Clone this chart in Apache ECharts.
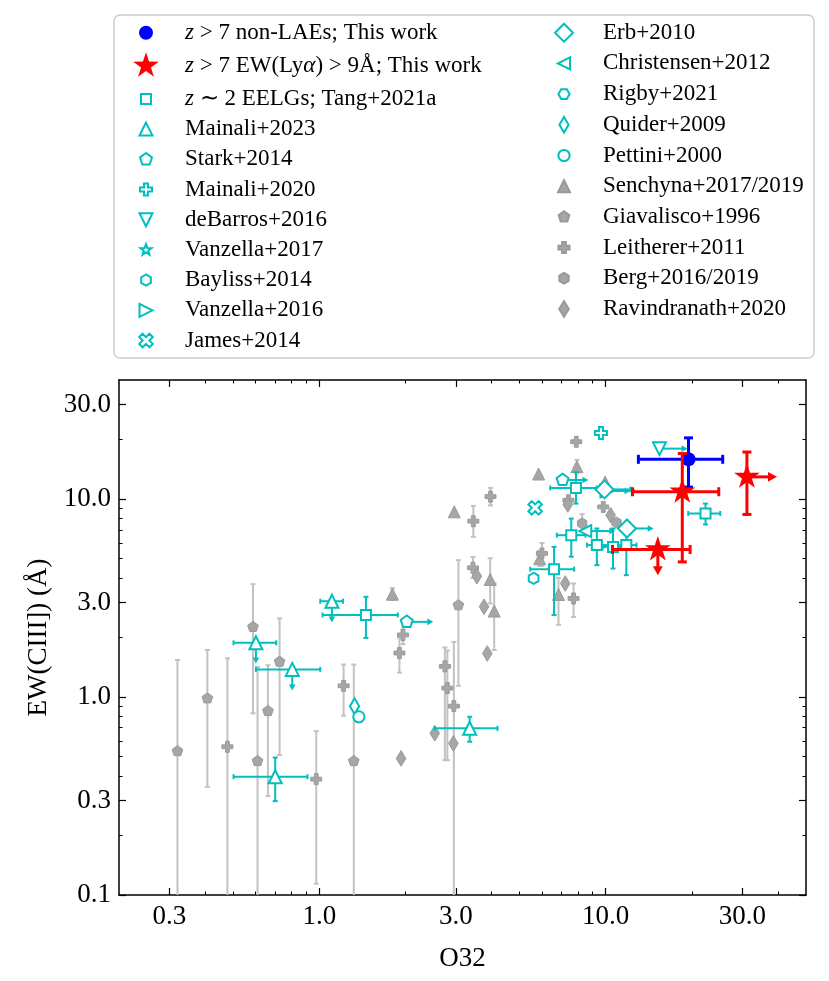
<!DOCTYPE html>
<html><head><meta charset="utf-8">
<script src="https://cdn.jsdelivr.net/npm/echarts@6/dist/echarts.min.js"></script>
<style>html,body{margin:0;padding:0;background:#fff}#c{width:829px;height:981px}</style>
</head><body><div id="c"></div>
<script>
// ---------------- data ----------------
const xMajorTicks = [0.3, 1, 3, 10, 30];
const xMinorTicks = [0.4, 0.5, 0.6, 0.7, 0.8, 0.9, 2, 4, 5, 6, 7, 8, 9, 20, 40];
const yMajorTicks = [0.1, 0.3, 1, 3, 10, 30];
const yMinorTicks = [0.2, 0.4, 0.5, 0.6, 0.7, 0.8, 0.9, 2, 4, 5, 6, 7, 8, 9, 20];

// rows: [O32, EW, O32_lo, O32_hi, EW_lo, EW_hi, O32 lower-limit arrow end, EW upper-limit arrow end]
const nonLAE = [[19.45, 15.9, 13.0, 25.6, 11.5, 20.4]];
const lyaEmitters = [
  [18.5, 10.9, 12.4, 24.8, 4.82, 17.0],
  [31.1, 12.96, null, null, 8.37, 17.3, 39.6, null],
  [15.2, 5.57, 10.56, 19.7, null, null, null, 4.13]
];
const tang2021 = [
  [1.455, 2.6, 1.027, 1.88, 1.99, 3.21],
  [7.87, 11.4, 6.4, 9.3, 9.5, 13.7],
  [7.58, 6.58, 6.75, 8.5, 5.12, 7.98],
  [9.31, 5.86, 8.6, 10.2, 4.64, 7.11],
  [10.6, 5.74, 9.8, 11.5, 4.46, 7.11],
  [11.8, 5.86, 11.0, 12.8, 4.13, 6.84],
  [6.6, 4.43, 5.45, 7.76, 2.6, 5.74],
  [22.3, 8.47, 19.4, 25.1, 7.45, 9.5]
];
const mainali2023 = [
  [0.601, 1.88, 0.502, 0.708, null, null, null, 1.48],
  [0.805, 1.38, 0.601, 1.008, null, null, null, 1.08],
  [0.702, 0.396, 0.502, 0.91, 0.298, 0.495],
  [1.107, 3.05, 1.008, 1.21, null, null, null, 2.38],
  [3.35, 0.695, 2.53, 4.19, 0.595, 0.795]
];
const stark2014 = [
  [2.02, 2.40, null, null, null, null, 2.5, null],
  [7.07, 12.5, null, null, null, null, 8.7, null]
];
const mainali2020 = [[9.62, 21.6]];
const debarros2016 = [[15.4, 18.0, null, null, null, null, 19.3, null]];
const vanzella2017 = [];
const bayliss2014 = [[5.6, 3.98]];
const vanzella2016 = [[10.1, 11.0, null, null, null, null, 12.2, null]];
const james2014 = [[5.67, 9.04]];
const erb2010 = [
  [9.9, 11.2, null, null, null, null, 12.7, null],
  [11.86, 7.11, null, null, null, null, 14.7, null]
];
const christensen2012 = [[8.48, 6.9, null, null, null, null, 10.8, null]];
const rigby2021 = [];
const quider2009 = [[1.328, 0.90]];
const pettini2000 = [[1.375, 0.795]];
const senchyna = [
  [1.80, 3.31, null, null, 3.1, 3.55],
  [2.96, 8.63],
  [3.95, 3.93, null, null, 2.97, 5.03],
  [4.08, 2.72, null, null, 1.73, 3.75],
  [5.83, 13.4],
  [7.93, 14.6, null, null, 13.5, 15.8],
  [9.95, 12.2],
  [5.88, 5.0, null, null, 4.6, 5.5],
  [6.84, 3.3, null, null, 2.32, 4.0]
];
const giavalisco = [
  [0.32, 0.533, null, null, 0.05, 1.54],
  [0.407, 0.985, null, null, 0.352, 1.73],
  [0.587, 2.26, null, null, 0.828, 3.72],
  [0.609, 0.475, null, null, 0.05, 1.42],
  [0.662, 0.85, null, null, 0.316, 1.45],
  [0.727, 1.51, null, null, 0.509, 2.50],
  [1.32, 0.475, null, null, 0.05, 1.46],
  [3.06, 2.91, null, null, 1.14, 4.92]
];
const leitherer = [
  [0.478, 0.561, null, null, 0.05, 1.57],
  [0.976, 0.385, null, null, 0.114, 0.673],
  [1.216, 1.14, null, null, 0.805, 1.46],
  [1.96, 2.06, null, null, 1.85, 2.2],
  [1.905, 1.67, null, null, 1.33, 2.0],
  [3.45, 7.74, null, null, 6.45, 9.25],
  [3.96, 10.3, null, null, 9.3, 11.4],
  [3.44, 4.5, null, null, 4.0, 5.1],
  [2.745, 1.43, null, null, 0.48, 1.78],
  [2.80, 1.11, null, null, 0.48, 1.72],
  [2.95, 0.90, null, null, 0.05, 1.9],
  [7.89, 19.5],
  [7.41, 9.88],
  [9.8, 9.14],
  [5.99, 5.32, null, null, 4.6, 6.0],
  [7.72, 3.15, null, null, 2.54, 3.75]
];
const berg = [
  [10.9, 7.62],
  [8.27, 7.54, null, null, 6.9, 8.4]
];
const ravindranath = [
  [1.93, 0.49],
  [2.53, 0.656],
  [2.94, 0.583],
  [3.55, 4.08],
  [3.76, 2.86],
  [3.86, 1.66],
  [7.37, 9.4],
  [10.4, 8.3],
  [7.22, 3.75]
];

// ---------------- marker shapes (28px box) ----------------
const BOX = 28;
const U = 100 / BOX;
const PAD = 'path://M0 0M100 100';
function fmt(v) { return (50 + v * U).toFixed(2); }
function polyPath(pts) { return PAD + 'M' + pts.map(p => fmt(p[0]) + ' ' + fmt(p[1])).join('L') + 'Z'; }
function regular(n, r, rot) {
  const pts = [];
  for (let k = 0; k < n; k++) { const a = (rot + k * 360 / n) * Math.PI / 180; pts.push([r * Math.cos(a), -r * Math.sin(a)]); }
  return pts;
}
function starPts(R, r) {
  const pts = [];
  for (let k = 0; k < 10; k++) { const a = (90 + k * 36) * Math.PI / 180; const rr = k % 2 ? r : R; pts.push([rr * Math.cos(a), -rr * Math.sin(a)]); }
  return pts;
}
function circlePath(r) {
  const a = r * U;
  return PAD + 'M' + (50 - a) + ' 50A' + a + ' ' + a + ' 0 1 1 ' + (50 + a) + ' 50A' + a + ' ' + a + ' 0 1 1 ' + (50 - a) + ' 50Z';
}
function plusPts(h, w) { return [[-w,-h],[w,-h],[w,-w],[h,-w],[h,w],[w,w],[w,h],[-w,h],[-w,w],[-h,w],[-h,-w],[-w,-w]]; }
function rot45(pts) { const c = Math.SQRT1_2; return pts.map(p => [(p[0] - p[1]) * c, (p[0] + p[1]) * c]); }

const CYAN = '#00bfbf', GREYF = '#a6a6a6', GREYS = '#999999', GREYE = '#c2c2c2';
const FONT = 'Liberation Serif';
const Y_MIN = 0.1;

const cyanErr = { color: CYAN, lw: 2, cap: 2.5, ah: 6 };
const greyErr = { color: GREYE, lw: 2, cap: 2.5, ah: 6 };
const groups = [
  { name: 'z > 7 non-LAEs; This work', rows: nonLAE, symbol: circlePath(7), fill: '#0000ff', stroke: '#0000ff', bw: 0, err: { color: '#0000ff', lw: 3, cap: 4.5, ah: 9 }, z: 5 },
  { name: 'z > 7 EW(Lyα) > 9Å; This work', rows: lyaEmitters, symbol: polyPath(starPts(13.5, 5.2)), fill: '#ff0000', stroke: '#ff0000', bw: 0, err: { color: '#ff0000', lw: 3, cap: 4.5, ah: 9 }, z: 7 },
  { name: 'z ∼ 2 EELGs; Tang+2021a', rows: tang2021, symbol: polyPath([[-5, -5], [5, -5], [5, 5], [-5, 5]]), fill: '#fff', stroke: CYAN, bw: 2, err: cyanErr, z: 3 },
  { name: 'Mainali+2023', rows: mainali2023, symbol: polyPath([[0, -6.5], [6.5, 6.5], [-6.5, 6.5]]), fill: '#fff', stroke: CYAN, bw: 2, err: cyanErr, z: 3 },
  { name: 'Stark+2014', rows: stark2014, symbol: polyPath(regular(5, 6.3, 90)), fill: '#fff', stroke: CYAN, bw: 2, err: cyanErr, z: 3 },
  { name: 'Mainali+2020', rows: mainali2020, symbol: polyPath(plusPts(6, 2)), fill: '#fff', stroke: CYAN, bw: 2, err: cyanErr, z: 3 },
  { name: 'deBarros+2016', rows: debarros2016, symbol: polyPath([[0, 6.5], [6.5, -6.5], [-6.5, -6.5]]), fill: '#fff', stroke: CYAN, bw: 2, err: cyanErr, z: 3 },
  { name: 'Vanzella+2017', rows: vanzella2017, symbol: polyPath(starPts(5.8, 2.4)), fill: '#fff', stroke: CYAN, bw: 2, err: cyanErr, z: 3 },
  { name: 'Bayliss+2014', rows: bayliss2014, symbol: polyPath(regular(6, 5.6, 90)), fill: '#fff', stroke: CYAN, bw: 2, err: cyanErr, z: 3 },
  { name: 'Vanzella+2016', rows: vanzella2016, symbol: polyPath([[6.5, 0], [-6.5, -6.5], [-6.5, 6.5]]), fill: '#fff', stroke: CYAN, bw: 2, err: cyanErr, z: 3 },
  { name: 'James+2014', rows: james2014, symbol: polyPath(rot45(plusPts(7.2, 2.4))), fill: '#fff', stroke: CYAN, bw: 2, err: cyanErr, z: 3 },
  { name: 'Erb+2010', rows: erb2010, symbol: polyPath([[0, -9], [9, 0], [0, 9], [-9, 0]]), fill: '#fff', stroke: CYAN, bw: 2, err: cyanErr, z: 3 },
  { name: 'Christensen+2012', rows: christensen2012, symbol: polyPath([[-6, 0], [6, -6], [6, 6]]), fill: '#fff', stroke: CYAN, bw: 2, err: cyanErr, z: 3 },
  { name: 'Rigby+2021', rows: rigby2021, symbol: polyPath(regular(6, 5.6, 0)), fill: '#fff', stroke: CYAN, bw: 2, err: cyanErr, z: 3 },
  { name: 'Quider+2009', rows: quider2009, symbol: polyPath([[0, -7.8], [4.6, 0], [0, 7.8], [-4.6, 0]]), fill: '#fff', stroke: CYAN, bw: 2, err: cyanErr, z: 3 },
  { name: 'Pettini+2000', rows: pettini2000, symbol: circlePath(5.6), fill: '#fff', stroke: CYAN, bw: 2, err: cyanErr, z: 3 },
  { name: 'Senchyna+2017/2019', rows: senchyna, symbol: polyPath([[0, -6], [6, 6], [-6, 6]]), fill: GREYF, stroke: GREYS, bw: 1, err: greyErr, z: 1 },
  { name: 'Giavalisco+1996', rows: giavalisco, symbol: polyPath(regular(5, 5.6, 90)), fill: GREYF, stroke: GREYS, bw: 1, err: greyErr, z: 1 },
  { name: 'Leitherer+2011', rows: leitherer, symbol: polyPath(plusPts(5.5, 1.9)), fill: GREYF, stroke: GREYS, bw: 1, err: greyErr, z: 1 },
  { name: 'Berg+2016/2019', rows: berg, symbol: polyPath(regular(6, 5.4, 90)), fill: GREYF, stroke: GREYS, bw: 1, err: greyErr, z: 1 },
  { name: 'Ravindranath+2020', rows: ravindranath, symbol: polyPath([[0, -7.8], [4.8, 0], [0, 7.8], [-4.8, 0]]), fill: GREYF, stroke: GREYS, bw: 1, err: greyErr, z: 1 }
];

function errRender(rows, o) {
  return function (params, api) {
    const r = rows[params.dataIndex];
    const x = r[0], y = r[1];
    const c = api.coord([x, y]);
    const st = { stroke: o.color, lineWidth: o.lw, fill: null };
    const kids = [];
    const seg = (a, b) => kids.push({ type: 'line', shape: { x1: a[0], y1: a[1], x2: b[0], y2: b[1] }, style: st });
    if (r[2] != null) {
      const a = api.coord([r[2], y]), b = api.coord([r[3], y]);
      seg(a, b);
      seg([a[0], a[1] - o.cap], [a[0], a[1] + o.cap]);
      seg([b[0], b[1] - o.cap], [b[0], b[1] + o.cap]);
    }
    if (r[4] != null) {
      const lo = Math.max(r[4], Y_MIN);
      const a = api.coord([x, lo]), b = api.coord([x, r[5]]);
      seg(a, b);
      if (r[4] > Y_MIN) seg([a[0] - o.cap, a[1]], [a[0] + o.cap, a[1]]);
      seg([b[0] - o.cap, b[1]], [b[0] + o.cap, b[1]]);
    }
    if (r[6] != null) {
      const e = api.coord([r[6], y]);
      seg(c, [e[0] - o.ah * 0.5, e[1]]);
      kids.push({ type: 'polygon', shape: { points: [[e[0], e[1]], [e[0] - o.ah, e[1] - o.ah * 0.55], [e[0] - o.ah, e[1] + o.ah * 0.55]] }, style: { fill: o.color } });
    }
    if (r[7] != null) {
      const e = api.coord([x, r[7]]);
      seg(c, [e[0], e[1] - o.ah * 0.5]);
      kids.push({ type: 'polygon', shape: { points: [[e[0], e[1]], [e[0] - o.ah * 0.55, e[1] - o.ah], [e[0] + o.ah * 0.55, e[1] - o.ah]] }, style: { fill: o.color } });
    }
    return { type: 'group', children: kids };
  };
}

const series = [];
groups.forEach(g => {
  if (g.rows.length) {
    series.push({
      name: g.name + ' err', type: 'custom', coordinateSystem: 'cartesian2d', xAxisIndex: 0, yAxisIndex: 0,
      data: g.rows.map(r => [r[0], r[1]]), encode: { x: 0, y: 1 }, renderItem: errRender(g.rows, g.err),
      silent: true, z: g.z
    });
  }
  series.push({
    name: g.name, type: 'scatter', xAxisIndex: 0, yAxisIndex: 0,
    data: g.rows.map(r => [r[0], r[1]]), symbol: g.symbol, symbolSize: BOX,
    itemStyle: { color: g.fill, borderColor: g.stroke, borderWidth: g.bw, opacity: 1 },
    emphasis: { disabled: true }, silent: true, z: g.z + 1
  });
});

const col1 = groups.slice(0, 11).map(g => g.name);
const col2 = groups.slice(11).map(g => g.name);
const ROW1 = 30.2, ROW2 = 30.7, ROW_STAR = 36;
function legendTextStyle(row) {
  const base = { fontFamily: FONT, fontSize: 23, color: '#000' };
  return Object.assign({}, base, {
    lineHeight: row,
    rich: {
      i: Object.assign({}, base, { lineHeight: row, fontStyle: 'italic' }),
      s: Object.assign({}, base, { lineHeight: ROW_STAR }),
      si: Object.assign({}, base, { lineHeight: ROW_STAR, fontStyle: 'italic' })
    }
  });
}
function legendFmt(name) {
  if (name.indexOf('Lyα') >= 0) {
    return name.replace(/^z (.*)Lyα(.*)$/, '{si|z}{s| $1Ly}{si|α}{s|$2}');
  }
  return name.replace(/^z /, '{i|z} ');
}
const legendBase = { orient: 'vertical', itemWidth: 68, itemHeight: BOX, itemGap: 0, padding: 0, selectedMode: false, formatter: legendFmt };

function xAx(pos, ticks, len, major, extra) {
  return Object.assign({
    type: 'log', min: 0.2, max: 50, position: pos, gridIndex: 0,
    axisLine: { show: major, onZero: false, lineStyle: { color: '#000', width: 1.5 } },
    axisTick: { show: true, inside: true, length: len, customValues: ticks, lineStyle: { color: '#000', width: major ? 1.2 : 1 } },
    axisLabel: { show: false }, splitLine: { show: false }, minorTick: { show: false }
  }, extra || {});
}
function yAx(pos, ticks, len, major, extra) {
  return Object.assign({
    type: 'log', min: 0.1, max: 40, position: pos, gridIndex: 0,
    axisLine: { show: major, onZero: false, lineStyle: { color: '#000', width: 1.5 } },
    axisTick: { show: true, inside: true, length: len, customValues: ticks, lineStyle: { color: '#000', width: major ? 1.2 : 1 } },
    axisLabel: { show: false }, splitLine: { show: false }, minorTick: { show: false }
  }, extra || {});
}
const labelStyle = { fontFamily: FONT, fontSize: 27, color: '#000', margin: 8, formatter: v => (+v).toFixed(1) };

const option = {
  animation: false,
  backgroundColor: '#fff',
  grid: { left: 119, right: 23, top: 380, bottom: 86, containLabel: false },
  graphic: [{ type: 'rect', shape: { x: 114, y: 15, width: 700, height: 343, r: 6 }, style: { fill: '#fff', stroke: '#cccccc', lineWidth: 1.5 }, z: -1, silent: true }],
  legend: [
    Object.assign({}, legendBase, { data: col1, left: 145 - BOX / 2, top: 32.7 - ROW1 / 2, textStyle: legendTextStyle(ROW1) }),
    Object.assign({}, legendBase, { data: col2, left: 563 - BOX / 2, top: 32.7 - ROW2 / 2, textStyle: legendTextStyle(ROW2) })
  ],
  xAxis: [
    xAx('bottom', xMajorTicks, 7, true, {
      name: 'O32', nameLocation: 'middle', nameGap: 50,
      nameTextStyle: { fontFamily: FONT, fontSize: 27, color: '#000' },
      axisLabel: Object.assign({ show: true, customValues: xMajorTicks }, labelStyle)
    }),
    xAx('bottom', xMinorTicks, 3.5, false),
    xAx('top', xMajorTicks, 7, true),
    xAx('top', xMinorTicks, 3.5, false)
  ],
  yAxis: [
    yAx('left', yMajorTicks, 7, true, {
      name: 'EW(CIII]) (Å)', nameLocation: 'middle', nameGap: 64, nameRotate: 90,
      nameTextStyle: { fontFamily: FONT, fontSize: 27, color: '#000' },
      axisLabel: Object.assign({ show: true, customValues: yMajorTicks }, labelStyle)
    }),
    yAx('left', yMinorTicks, 3.5, false),
    yAx('right', yMajorTicks, 7, true),
    yAx('right', yMinorTicks, 3.5, false)
  ],
  series: series
};

const chart = echarts.init(document.getElementById('c'), null, { renderer: 'canvas' });
chart.setOption(option);
</script>
</body></html>
